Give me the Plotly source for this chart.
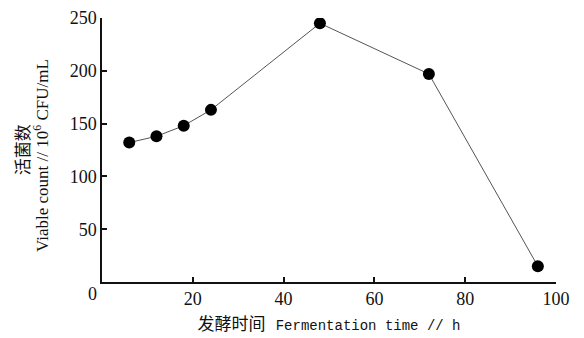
import plotly.graph_objects as go

time_h = [6, 12, 18, 24, 48, 72, 96]
viable = [132, 138, 148, 163, 245, 197, 15]
x_ticks = [20, 40, 60, 80, 100]
y_ticks = [50, 100, 150, 200, 250]

num_font = dict(family="Liberation Serif, Times New Roman, serif", size=18, color="#111")

fig = go.Figure()
fig.add_trace(go.Scatter(
    x=time_h, y=viable, mode="lines+markers",
    line=dict(color="#555", width=1),
    marker=dict(color="#000", size=12),
    showlegend=False,
))

fig.update_layout(
    width=584, height=338,
    margin=dict(l=102, r=28, t=18, b=56),
    paper_bgcolor="white", plot_bgcolor="white",
    xaxis=dict(
        range=[0, 100], tickvals=x_ticks, ticktext=[str(v) for v in x_ticks],
        automargin=False,
        showgrid=False, zeroline=False, showline=True, linecolor="#111", linewidth=1.5,
        ticks="inside", ticklen=5, tickcolor="#111", tickwidth=1.5,
        tickfont=num_font,
        title=dict(
            text="发酵时间 <span style='font-size:14px'>Fermentation time // h</span>",
            font=dict(family="Liberation Mono, Noto Sans CJK SC", size=17, color="#111"),
            standoff=10,
        ),
    ),
    yaxis=dict(
        range=[0, 250], tickvals=y_ticks, ticktext=[str(v) for v in y_ticks],
        automargin=False,
        showgrid=False, zeroline=False, showline=True, linecolor="#111", linewidth=1.5,
        ticks="inside", ticklen=5, tickcolor="#111", tickwidth=1.5,
        tickfont=num_font,
    ),
)

fig.add_annotation(
    x=-0.178, y=0.5, xref="paper", yref="paper", text="活菌数", showarrow=False,
    textangle=-90, xanchor="center", yanchor="middle",
    font=dict(family="Noto Sans CJK SC", size=17, color="#111"),
)
fig.add_annotation(
    x=-0.134, y=0.478, xref="paper", yref="paper",
    text="Viable count // 10<sup>6</sup> CFU/mL", showarrow=False,
    textangle=-90, xanchor="center", yanchor="middle",
    font=dict(family="Liberation Serif", size=17, color="#111"),
)

fig.add_annotation(
    x=0, y=0, xref="x", yref="y", text="0", showarrow=False,
    xshift=-10, yshift=-12, font=num_font,
)

fig.write_html("out.html")
